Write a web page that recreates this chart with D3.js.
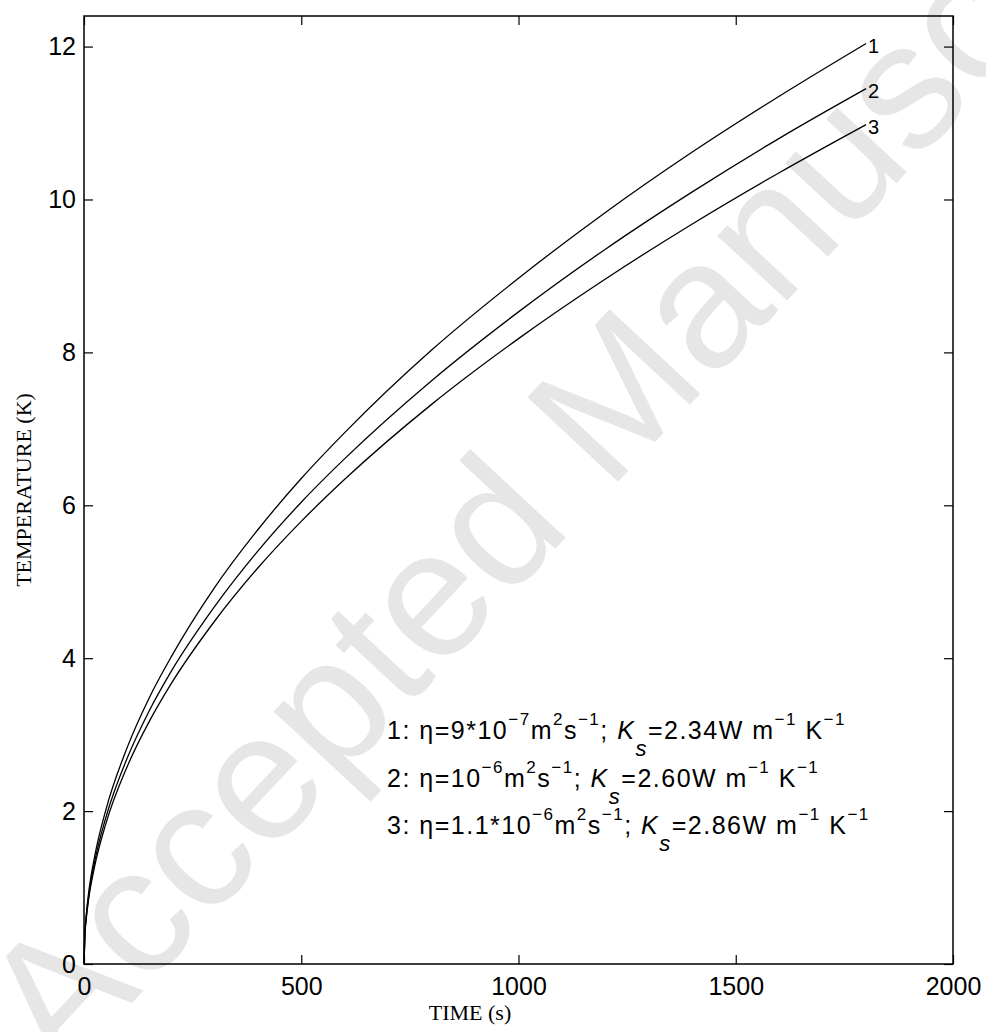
<!DOCTYPE html>
<html>
<head>
<meta charset="utf-8">
<title>Temperature vs time</title>
<script src="https://d3js.org/d3.v7.min.js"></script>
<style>
  body { margin: 0; background: #fff; }
  svg text { font-family: "Liberation Sans", Arial, sans-serif; }
</style>
</head>
<body>
<div id="chart"></div>
<script>
// values
var timeS = [0, 2, 5, 10, 25, 50, 100, 150, 200, 300, 400, 500, 600, 800, 1000, 1200, 1400, 1600, 1800];
var tempCurve1 = [0, 0.40, 0.63, 0.90, 1.42, 2.01, 2.84, 3.48, 4.01, 4.92, 5.68, 6.35, 6.95, 8.03, 8.97, 9.83, 10.62, 11.35, 12.04];
var tempCurve2 = [0, 0.38, 0.60, 0.85, 1.35, 1.91, 2.70, 3.31, 3.82, 4.67, 5.40, 6.04, 6.61, 7.63, 8.53, 9.35, 10.10, 10.80, 11.45];
var tempCurve3 = [0, 0.37, 0.58, 0.82, 1.29, 1.83, 2.59, 3.17, 3.66, 4.48, 5.18, 5.79, 6.34, 7.32, 8.18, 8.96, 9.68, 10.35, 10.98];
var curveLabels = ["1", "2", "3"];
var xTicks = [0, 500, 1000, 1500, 2000];
var yTicks = [0, 2, 4, 6, 8, 10, 12];
var xDomain = [0, 2000];
var yDomain = [0, 12.4];

// legend lines: [text, kind]  kind: n = normal, sup = superscript, sub = subscript, i = italic
var legendLines = [
  [["1: \u03b7=9*10", "n"], ["\u22127", "sup"], ["m", "n"], ["2", "sup"], ["s", "n"], ["\u22121", "sup"], ["; ", "n"], ["K", "i"], ["s", "sub"], ["=2.34W m", "n"], ["\u22121", "sup"], [" K", "n"], ["\u22121", "sup"]],
  [["2: \u03b7=10", "n"], ["\u22126", "sup"], ["m", "n"], ["2", "sup"], ["s", "n"], ["\u22121", "sup"], ["; ", "n"], ["K", "i"], ["s", "sub"], ["=2.60W m", "n"], ["\u22121", "sup"], [" K", "n"], ["\u22121", "sup"]],
  [["3: \u03b7=1.1*10", "n"], ["\u22126", "sup"], ["m", "n"], ["2", "sup"], ["s", "n"], ["\u22121", "sup"], ["; ", "n"], ["K", "i"], ["s", "sub"], ["=2.86W m", "n"], ["\u22121", "sup"], [" K", "n"], ["\u22121", "sup"]]
];

var width = 986, height = 1032;
var margin = {top: 16, right: 33, bottom: 68, left: 84};
var innerW = width - margin.left - margin.right,
    innerH = height - margin.top - margin.bottom;

var svg = d3.select("#chart").append("svg")
    .attr("width", width)
    .attr("height", height);

// watermark
svg.append("text")
    .attr("transform", "translate(62,1078) rotate(-47)")
    .attr("text-anchor", "start")
    .style("font-size", "180px")
    .style("fill", "#e6e6e6")
    .text("Accepted Manuscript");

var g = svg.append("g")
    .attr("transform", "translate(" + margin.left + "," + margin.top + ")");

var x = d3.scaleLinear().domain(xDomain).range([0, innerW]);
var y = d3.scaleLinear().domain(yDomain).range([innerH, 0]);

var tick = 9;
// bottom axis with labels
g.append("g")
    .attr("transform", "translate(0," + innerH + ")")
    .call(d3.axisBottom(x).tickValues(xTicks).tickSize(-tick).tickPadding(13).tickFormat(d3.format("d")))
    .call(function(a) { a.select(".domain").remove(); });
// top axis ticks
g.append("g")
    .call(d3.axisTop(x).tickValues(xTicks).tickSize(-tick).tickFormat(""))
    .call(function(a) { a.select(".domain").remove(); });
// left axis
g.append("g")
    .call(d3.axisLeft(y).tickValues(yTicks).tickSize(-tick).tickPadding(8).tickFormat(d3.format("d")))
    .call(function(a) { a.select(".domain").remove(); });
// right axis ticks
g.append("g")
    .attr("transform", "translate(" + innerW + ",0)")
    .call(d3.axisRight(y).tickValues(yTicks).tickSize(-tick).tickFormat(""))
    .call(function(a) { a.select(".domain").remove(); });

g.selectAll(".tick line").attr("stroke", "#000").attr("stroke-width", 1.2);
g.selectAll(".tick text").style("font-size", "25px").attr("fill", "#000");

// frame
g.append("rect")
    .attr("width", innerW)
    .attr("height", innerH)
    .attr("fill", "none")
    .attr("stroke", "#000")
    .attr("stroke-width", 1.5);

// curves
var series = [tempCurve1, tempCurve2, tempCurve3];
var line = d3.line()
    .x(function(d, i) { return x(timeS[i]); })
    .y(function(d) { return y(d); })
    .curve(d3.curveMonotoneX);

g.selectAll(".curve")
    .data(series)
    .enter().append("path")
    .attr("class", "curve")
    .attr("d", line)
    .attr("fill", "none")
    .attr("stroke", "#000")
    .attr("stroke-width", 1.3);

g.selectAll(".clabel")
    .data(series)
    .enter().append("text")
    .attr("class", "clabel")
    .attr("x", function(d) { return x(timeS[timeS.length - 1]) + 2; })
    .attr("y", function(d) { return y(d[d.length - 1]); })
    .attr("dy", "0.45em")
    .style("font-size", "20px")
    .text(function(d, i) { return curveLabels[i]; });

// legend
var leg = g.append("g").attr("transform", "translate(" + (387 - margin.left) + "," + (739 - margin.top) + ")");
legendLines.forEach(function(parts, li) {
  var t = leg.append("text")
      .attr("x", 0)
      .attr("y", li * 47.5)
      .style("font-size", "25px")
      .style("letter-spacing", "1.5px");
  var shift = 0;
  parts.forEach(function(p) {
    var target = p[1] == "sup" ? -14 : p[1] == "sub" ? 17 : 0;
    var ts = t.append("tspan")
        .attr("dy", target - shift)
        .text(p[0]);
    shift = target;
    if (p[1] == "sup") ts.style("font-size", "17px");
    if (p[1] == "sub") ts.style("font-size", "22px").style("font-style", "italic");
    if (p[1] == "i") ts.style("font-style", "italic");
  });
});

// axis titles
svg.append("text")
    .attr("x", 470)
    .attr("y", 1020)
    .attr("text-anchor", "middle")
    .style("font-family", "'Liberation Serif', 'Times New Roman', serif")
    .style("font-size", "22px")
    .text("TIME (s)");

svg.append("text")
    .attr("transform", "translate(31," + (margin.top + innerH / 2) + ") rotate(-90)")
    .attr("text-anchor", "middle")
    .style("font-family", "'Liberation Serif', 'Times New Roman', serif")
    .style("font-size", "22px")
    .text("TEMPERATURE (K)");
</script>
</body>
</html>
